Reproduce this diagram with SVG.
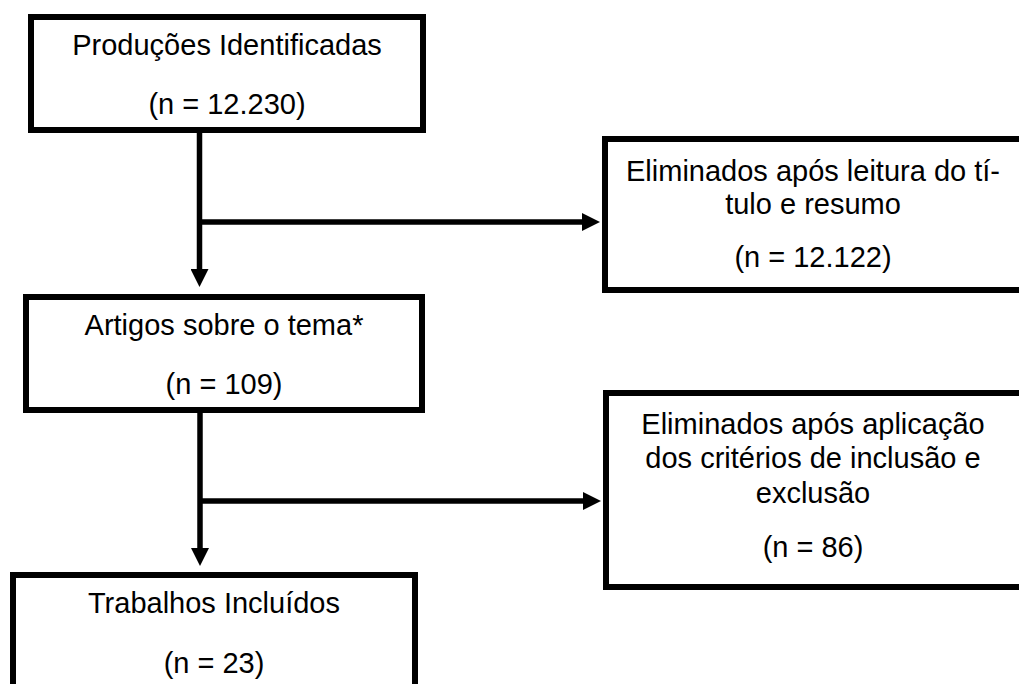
<svg xmlns="http://www.w3.org/2000/svg" width="1019" height="684" viewBox="0 0 1019 684">
<style>
.box{fill:#fff;stroke:#000;stroke-width:6}
.t{font-family:"Liberation Sans",Arial,sans-serif;font-size:29px;fill:#000;text-anchor:middle}
.c{stroke:#000;stroke-width:5.5;fill:none}
</style>
<defs>
<marker id="ah" markerUnits="userSpaceOnUse" markerWidth="18" markerHeight="18" refX="8" refY="9" orient="auto">
<path d="M0,0 L18,9 L0,18 z" fill="#000"/>
</marker>
</defs>
<rect width="1019" height="684" fill="#fff"/>
<g id="connectors">
<line class="c" x1="199.5" y1="130" x2="199.5" y2="277" marker-end="url(#ah)"/>
<line class="c" x1="199.5" y1="222" x2="590" y2="222" marker-end="url(#ah)"/>
<line class="c" x1="200" y1="410" x2="200" y2="556" marker-end="url(#ah)"/>
<line class="c" x1="200" y1="501" x2="591" y2="501" marker-end="url(#ah)"/>
</g>
<g id="n1">
<rect class="box" x="31" y="17" width="392" height="113"/>
<text class="t" x="227" y="55">Produções Identificadas</text>
<text class="t" x="227" y="114">(n = 12.230)</text>
</g>
<g id="n2">
<rect class="box" x="605" y="139" width="430" height="151"/>
<text class="t" x="813" y="181">Eliminados após leitura do tí-</text>
<text class="t" x="813" y="214">tulo e resumo</text>
<text class="t" x="813" y="267">(n = 12.122)</text>
</g>
<g id="n3">
<rect class="box" x="26" y="297" width="396" height="113"/>
<text class="t" x="224" y="335">Artigos sobre o tema*</text>
<text class="t" x="224" y="394">(n = 109)</text>
</g>
<g id="n4">
<rect class="box" x="606" y="393" width="430" height="194"/>
<text class="t" x="813" y="434">Eliminados após aplicação</text>
<text class="t" x="813" y="468">dos critérios de inclusão e</text>
<text class="t" x="813" y="503">exclusão</text>
<text class="t" x="813" y="557">(n = 86)</text>
</g>
<g id="n5">
<rect class="box" x="13" y="575" width="402" height="130"/>
<text class="t" x="214" y="613">Trabalhos Incluídos</text>
<text class="t" x="214" y="673">(n = 23)</text>
</g>
</svg>
